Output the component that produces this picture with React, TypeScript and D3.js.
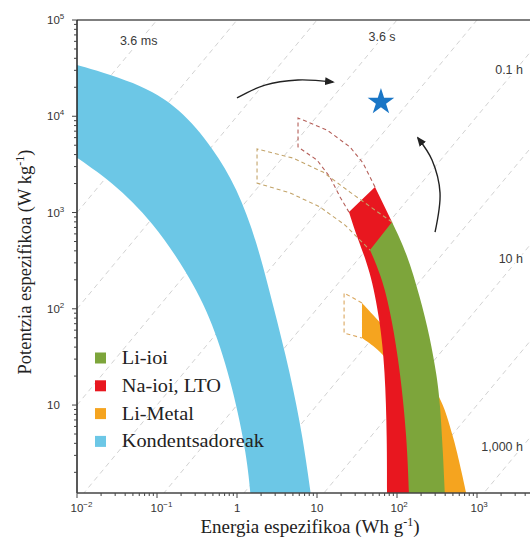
import React from "react";
import * as d3 from "d3";

const W = 530;
const H = 540;
const plot = { left: 77, right: 530, top: 20, bottom: 493 };

// [specific energy (Wh kg-1), specific power (W kg-1)] boundary points
const capacitorUpper = [[0.008, 36000], [0.056, 22700], [0.194, 12200], [0.5, 4680], [1, 1800], [1.78, 493], [2.82, 109], [4.6, 22], [6.7, 4.5], [8.6, 1.0]];
const capacitorLower = [[0.008, 4200], [0.028, 2075], [0.089, 796], [0.237, 241], [0.5, 73], [0.89, 15], [1.33, 3.0], [1.5, 1.0]];

const liMetalUpper = [[36.5, 115], [109, 42], [325, 12.7], [501, 4.65], [770, 1.0]];
const liMetalLower = [[36.5, 49.7], [61.3, 35.5], [168, 11.3], [380, 1.0]];

const naIonLeft = [[25.1, 1010], [31.6, 556], [46, 253], [61.3, 76.4], [70.8, 23.1], [75, 4.65], [75, 1.0]];
const naIonRight = [[53.1, 1840], [86.6, 796], [110, 250], [130, 80], [150, 20], [165, 5], [170, 1.0]];

const liIonLeft = [[46, 407], [66.8, 199], [86.6, 76.4], [109, 23.1], [133, 4.65], [142, 1.0]];
const liIonRight = [[86.6, 796], [133, 379], [194, 132], [258, 50.9], [316, 19.6], [345, 10.5], [376, 3.17], [400, 1.0]];

// dashed outlines (future targets)
const naIonTarget = [[53.1, 1840], [37.6, 3270], [25.8, 4800], [13.3, 7200], [5.79, 9600], [5.79, 4800], [10, 3510], [14.5, 2340], [19.4, 1450], [25.1, 1010]];
const liIonTarget = [[86.6, 796], [53.1, 1060], [25.8, 1630], [11.9, 2630], [5.01, 3680], [1.78, 4570], [1.78, 2020], [4.6, 1600], [10.9, 1140], [22.4, 741], [46, 407]];
const liMetalTarget = [[36.5, 115], [21.8, 146], [21.8, 56], [36.5, 49.7]];

const star = [63, 14070];
const arrowTop = [[1, 15500], [2.24, 21100], [5.79, 23800], [15.8, 22700]];
const arrowRight = [[299, 627], [345, 1600], [274, 3510], [183, 5940]];

// discharge-time lines (hours)
const timeLines = [1e-7, 1e-6, 1e-5, 1e-4, 1e-3, 1e-2, 1e-1, 1, 10, 100, 1000];
const timeLabels = [
  { text: "3.6 ms", t: 1e-6, p: 59000, anchor: "middle" },
  { text: "3.6 s", t: 1e-3, p: 65000, anchor: "middle" },
  { text: "0.1 h", t: 0.1, p: 29500, anchor: "end" },
  { text: "10 h", t: 10, p: 320, anchor: "end" },
  { text: "1,000 h", t: 1000, p: 3.57, anchor: "end" },
];

const xTicks = [
  { v: 0.01, base: "10", sup: "−2" },
  { v: 0.1, base: "10", sup: "−1" },
  { v: 1, base: "1", sup: "" },
  { v: 10, base: "10", sup: "" },
  { v: 100, base: "10", sup: "2" },
  { v: 1000, base: "10", sup: "3" },
];
const yTicks = [
  { v: 10, base: "10", sup: "" },
  { v: 100, base: "10", sup: "2" },
  { v: 1000, base: "10", sup: "3" },
  { v: 10000, base: "10", sup: "4" },
  { v: 100000, base: "10", sup: "5" },
];

const colors = {
  liIon: "#7da53b",
  naIon: "#e8171f",
  liMetal: "#f5a41f",
  capacitor: "#6cc7e6",
};
const legendItems = [
  { label: "Li-ioi", color: colors.liIon },
  { label: "Na-ioi, LTO", color: colors.naIon },
  { label: "Li-Metal", color: colors.liMetal },
  { label: "Kondentsadoreak", color: colors.capacitor },
];

const x = d3.scaleLog().domain([0.01, 10 ** 3.6625]).range([plot.left, plot.right]);
const y = d3.scaleLog().domain([1.22, 1e5]).range([plot.bottom, plot.top]);

const smooth = d3.line<number[]>().x((d) => x(d[0])).y((d) => y(d[1])).curve(d3.curveBasis);
const curve = d3.line<number[]>().x((d) => x(d[0])).y((d) => y(d[1])).curve(d3.curveCatmullRom.alpha(0.5));
const straight = d3.line<number[]>().x((d) => x(d[0])).y((d) => y(d[1]));

// band between two boundaries
const band = (a: number[][], b: number[][], lineA = smooth, lineB = smooth) =>
  (lineA(a) as string) + (lineB(b.slice().reverse()) as string).replace(/^M/, "L") + "Z";

const sans = "'Liberation Sans', Arial, sans-serif";
const serif = "'Liberation Serif', 'Times New Roman', serif";

export default function App() {
  const allTicksX = x.ticks();
  const allTicksY = y.ticks();
  const isMajor = (v: number) => Math.abs(Math.log10(v) - Math.round(Math.log10(v))) < 1e-6;
  const starPath = d3.symbol(d3.symbolStar, 220)() as string;

  return (
    <svg width={W} height={H} style={{ position: "absolute", left: 0, top: 0, background: "#fff" }}>
      <defs>
        <clipPath id="plot-clip">
          <rect x={plot.left} y={plot.top} width={plot.right - plot.left} height={plot.bottom - plot.top} />
        </clipPath>
        <marker id="arrow" viewBox="0 0 10 10" refX="8" refY="5" markerWidth="7" markerHeight="7" orient="auto">
          <path d="M0,1 L10,5 L0,9 Z" fill="#222" />
        </marker>
      </defs>

      <g clipPath="url(#plot-clip)">
        {timeLines.map((t) => (
          <line
            key={t}
            x1={x(0.01)}
            y1={y(0.01 / t)}
            x2={x(5000)}
            y2={y(5000 / t)}
            stroke="#d2d2d2"
            strokeWidth={1}
            strokeDasharray="5,4"
          />
        ))}

        <path d={band(capacitorUpper, capacitorLower)} fill={colors.capacitor} />
        <path d={band(liMetalUpper, liMetalLower, curve, curve)} fill={colors.liMetal} />
        <path d={band(naIonLeft, naIonRight, smooth, straight)} fill={colors.naIon} />
        <path d={band(liIonRight, liIonLeft)} fill={colors.liIon} />

        <path d={straight(naIonTarget) as string} fill="none" stroke="#b5605a" strokeWidth={1.1} strokeDasharray="4,3" />
        <path d={straight(liIonTarget) as string} fill="none" stroke="#c3a46a" strokeWidth={1.1} strokeDasharray="4,3" />
        <path d={straight(liMetalTarget) as string} fill="none" stroke="#dba860" strokeWidth={1.1} strokeDasharray="4,3" />

        <path d={starPath} transform={`translate(${x(star[0])},${y(star[1])})`} fill="#1a76c6" />

        <path d={curve(arrowTop) as string} fill="none" stroke="#222" strokeWidth={1.4} markerEnd="url(#arrow)" />
        <path d={curve(arrowRight) as string} fill="none" stroke="#222" strokeWidth={1.4} markerEnd="url(#arrow)" />
      </g>

      {timeLabels.map((l) => (
        <text
          key={l.text}
          x={l.anchor === "end" ? plot.right - 7 : x(l.p * l.t)}
          y={y(l.p)}
          textAnchor={l.anchor}
          dominantBaseline="middle"
          fontFamily={sans}
          fontSize={12.5}
          fill="#3a3a3a"
          stroke="#fff"
          strokeWidth={4}
          paintOrder="stroke"
        >
          {l.text}
        </text>
      ))}

      {/* frame */}
      <line x1={plot.left} x2={plot.right} y1={plot.top} y2={plot.top} stroke="#555" strokeWidth={1.5} />
      <line x1={plot.left} x2={plot.left} y1={plot.top} y2={plot.bottom} stroke="#222" strokeWidth={1.5} />
      <line x1={plot.left} x2={plot.right} y1={plot.bottom} y2={plot.bottom} stroke="#444" strokeWidth={1.5} />

      {allTicksX.map((v) => (
        <line key={"xt" + v} x1={x(v)} x2={x(v)} y1={plot.bottom} y2={plot.bottom + (isMajor(v) ? 5 : 3)} stroke="#444" strokeWidth={1} />
      ))}
      {allTicksY.map((v) => (
        <line key={"yt" + v} x1={plot.left - (isMajor(v) ? 5 : 3)} x2={plot.left} y1={y(v)} y2={y(v)} stroke="#444" strokeWidth={1} />
      ))}

      {xTicks.map((t) => (
        <text key={"xl" + t.v} x={x(t.v)} y={512} fontFamily={sans} fontSize={11.5} fill="#333" textAnchor="start" dx={t.base === "1" ? -3 : -6.5}>
          {t.base}
          {t.sup && (
            <tspan dy={-5} fontSize={8}>
              {t.sup}
            </tspan>
          )}
        </text>
      ))}
      {yTicks.map((t) => (
        <text key={"yl" + t.v} x={47} y={y(t.v) + 4} fontFamily={sans} fontSize={11.5} fill="#333">
          {t.base}
          {t.sup && (
            <tspan dy={-5} fontSize={8}>
              {t.sup}
            </tspan>
          )}
        </text>
      ))}

      {/* axis titles */}
      <text x={310} y={533} textAnchor="middle" fontFamily={serif} fontSize={19} fill="#222">
        Energia espezifikoa (Wh g
        <tspan dy={-7} fontSize={12}>
          -1
        </tspan>
        <tspan dy={7}>)</tspan>
      </text>
      <text transform="translate(31,262) rotate(-90)" textAnchor="middle" fontFamily={serif} fontSize={18.5} fill="#222">
        Potentzia espezifikoa (W kg
        <tspan dy={-7} fontSize={12}>
          -1
        </tspan>
        <tspan dy={7}>)</tspan>
      </text>

      {/* legend */}
      {legendItems.map((item, i) => (
        <g key={item.label} transform={`translate(95,${358 + i * 27.8})`}>
          <rect x={0} y={-5.5} width={11} height={11} fill={item.color} />
          <text x={25} y={6} fontFamily={serif} fontSize={19} fill="#222" transform="scale(1.07,1)">
            {item.label}
          </text>
        </g>
      ))}
    </svg>
  );
}
